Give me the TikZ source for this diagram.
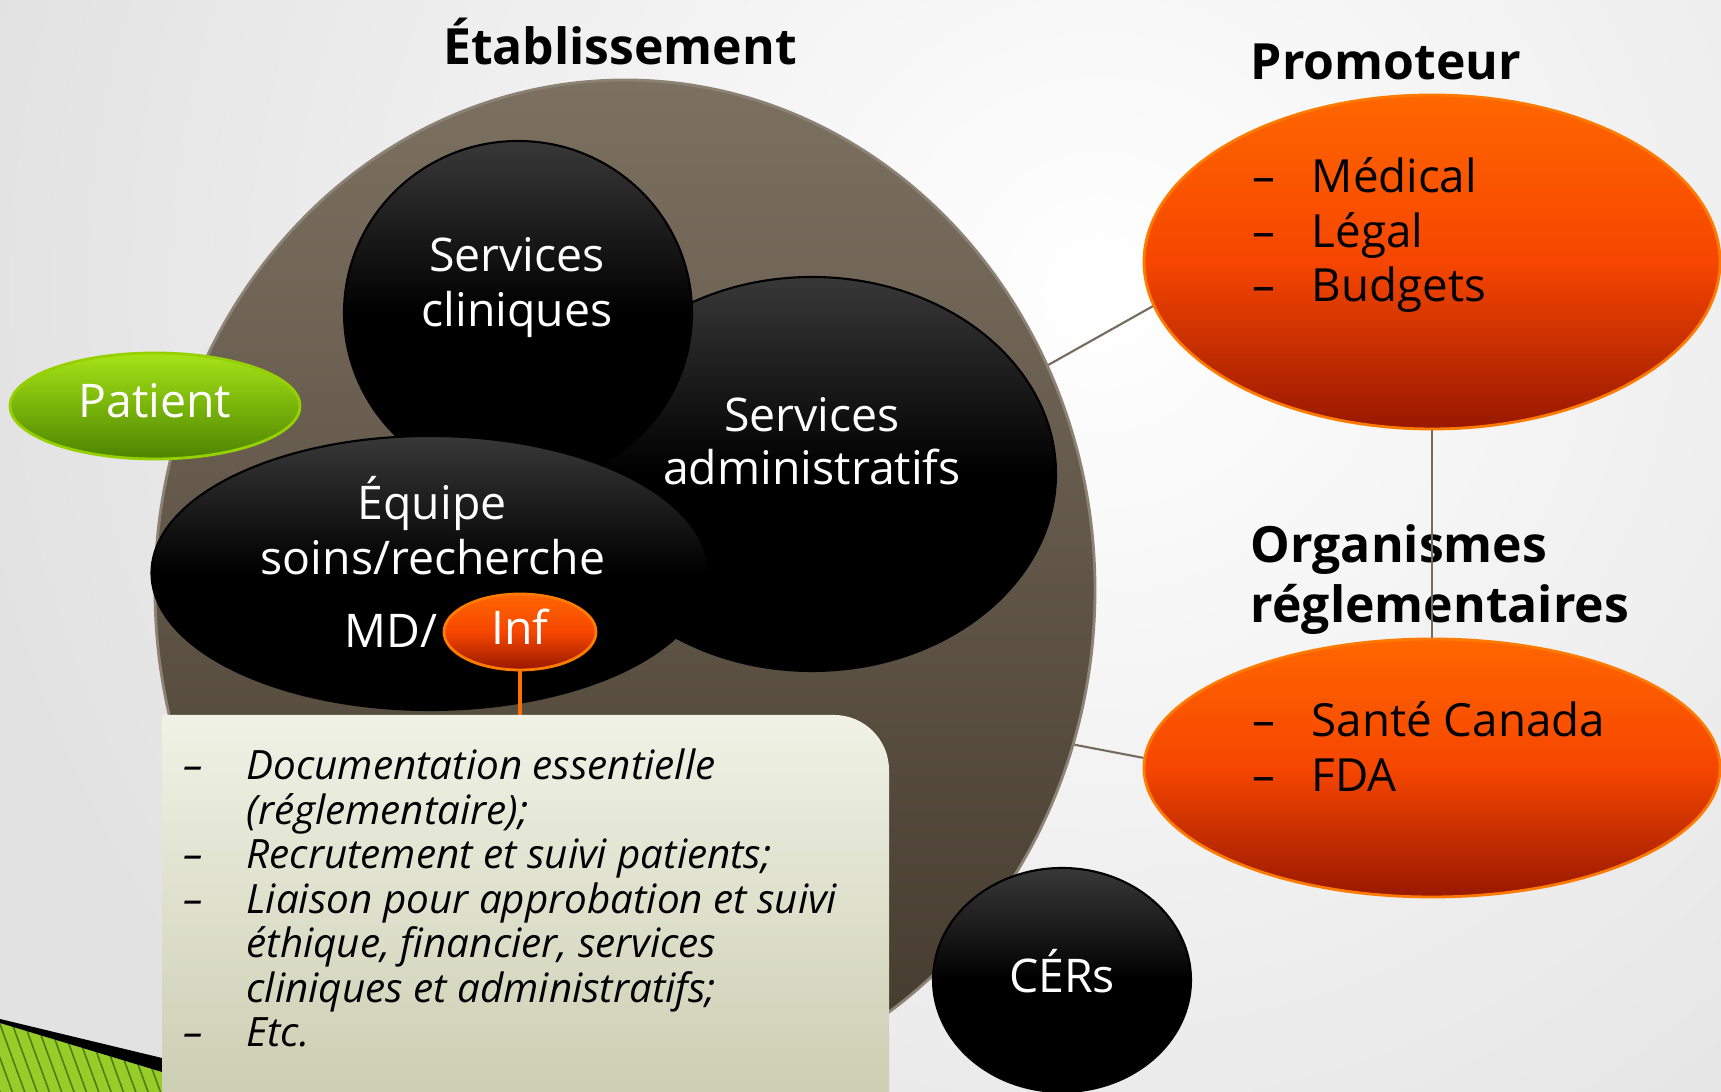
\documentclass[tikz,border=0pt]{standalone}
\usepackage{fontspec}
\setmainfont{Open Sans}
\usetikzlibrary{shapes.geometric,patterns.meta,positioning}

\definecolor{bggray}{RGB}{226,226,226}
\definecolor{etabtop}{RGB}{124,113,97}
\definecolor{etabbot}{RGB}{66,56,43}
\definecolor{etabedge}{RGB}{140,131,117}
\definecolor{orangetop}{RGB}{255,102,0}
\definecolor{orangemid}{RGB}{246,70,0}
\definecolor{orangebot}{RGB}{152,24,0}
\definecolor{orangeedge}{RGB}{255,122,0}
\definecolor{greentop}{RGB}{166,228,22}
\definecolor{greenbot}{RGB}{76,132,0}
\definecolor{greenedge}{RGB}{150,208,0}
\definecolor{boxtop}{RGB}{240,242,230}
\definecolor{boxbot}{RGB}{203,206,177}
\definecolor{tiegray}{RGB}{118,108,94}
\definecolor{infline}{RGB}{255,110,0}
\definecolor{stripegreen}{RGB}{150,205,40}
\definecolor{stripedark}{RGB}{78,125,20}

\tikzset{
  blob/.style={ellipse, draw=black, line width=0.6pt, inner sep=0pt,
    top color=black!78, bottom color=black, middle color=black},
  orangeblob/.style={ellipse, draw=orangeedge, line width=0.8pt, inner sep=0pt,
    top color=orangetop, bottom color=orangebot, middle color=orangemid},
  whitetext/.style={text=white, font=\fontsize{13.2}{15.8}\selectfont, inner sep=0pt, anchor=base},
  headtext/.style={font=\fontsize{14.2}{17}\selectfont\bfseries, inner sep=0pt, anchor=base west},
  itemtext/.style={font=\fontsize{13}{15.6}\selectfont, inner sep=0pt, anchor=base west},
  tie/.style={draw=tiegray, line width=0.6pt},
}

\newcommand{\itemdash}{\makebox[16.8pt][l]{–}}

\begin{document}
\begin{tikzpicture}
    \useasboundingbox (0,0) rectangle (17.21,10.92);
    \clip (0,0) rectangle (17.21,10.92);

    % background
    \fill[bggray] (0,0) rectangle (17.21,10.92);
    \shade[inner color=white, outer color=bggray] (11,8) circle (11.5);

    % green corner stripe (bottom left)
    \fill[stripegreen] (0,0.69) -- (1.62,0.20) -- (1.62,0) -- (0,0) -- cycle;
    \fill[pattern={Lines[angle=-70,distance=3.3pt,line width=0.45pt]}, pattern color=stripedark]
        (0,0.69) -- (1.62,0.20) -- (1.62,0) -- (0,0) -- cycle;
    \fill[black] (0,0.73) -- (1.62,0.34) -- (1.62,0.20) -- (0,0.69) -- cycle;

    % Etablissement
    \node[ellipse, draw=etabedge, line width=0.8pt, inner sep=0pt,
          minimum width=9.4cm, minimum height=10.2cm,
          top color=etabtop, bottom color=etabbot] (etab) at (6.25,5.02) {};
    \node[headtext, anchor=base] (etab-title) at (6.20,10.27) {Établissement};

    % services inside
    \node[blob, minimum width=4.88cm, minimum height=3.94cm] (admin) at (8.12,6.18) {};
    \node[blob, minimum width=3.48cm, minimum height=3.44cm] (cliniques) at (5.18,7.79) {};
    \node[blob, minimum width=5.57cm, minimum height=2.74cm] (equipe) at (4.30,5.19) {};
    \node[orangeblob, minimum width=1.52cm, minimum height=0.76cm] (inf) at (5.20,4.60) {};

    \node[whitetext] (cliniques-l1) at (5.17,8.20) {Services};
    \node[whitetext] (cliniques-l2) at (5.17,7.65) {cliniques};
    \node[whitetext] (admin-l1) at (8.12,6.60) {Services};
    \node[whitetext] (admin-l2) at (8.12,6.07) {administratifs};
    \node[whitetext] (equipe-l1) at (4.32,5.72) {Équipe};
    \node[whitetext] (equipe-l2) at (4.33,5.17) {soins/recherche};
    \node[whitetext, anchor=base east] (equipe-md) at (4.38,4.44) {MD/};
    \node[whitetext] (inf-text) at (5.20,4.47) {Inf};

    % patient
    \node[ellipse, draw=greenedge, line width=0.8pt, inner sep=0pt,
          minimum width=2.90cm, minimum height=1.06cm,
          top color=greentop, bottom color=greenbot] (patient) at (1.55,6.86) {};
    \node[whitetext] (patient-text) at (1.55,6.74) {Patient};

    % tasks box
    \coordinate (boxtop) at (5.20,3.77);
    \draw[infline, line width=0.9pt] (inf) -- (boxtop);
    \shade[top color=boxtop, bottom color=boxbot]
        (1.62,-0.1) -- (1.62,3.77) -- (8.34,3.77) arc[start angle=90, end angle=0, radius=0.55] -- (8.89,-0.1) -- cycle;
    \node[anchor=base west, inner sep=0pt, font=\fontsize{11.5}{12.66}\selectfont\itshape] (tasks) at (1.83,3.12)
        {\begin{tabular}[t]{@{}p{17.9pt}@{}l@{}}
          – & Documentation essentielle\\
            & (réglementaire);\\
          – & Recrutement et suivi patients;\\
          – & Liaison pour approbation et suivi\\
            & éthique, financier, services\\
            & cliniques et administratifs;\\
          – & Etc.
        \end{tabular}};

    % CERs
    \node[blob, minimum width=2.58cm, minimum height=2.24cm] (cers) at (10.62,1.12) {};
    \node[whitetext] (cers-text) at (10.62,0.99) {CÉRs};

    % promoteur (right top)
    \node[orangeblob, minimum width=5.76cm, minimum height=3.34cm] (promo) at (14.32,8.30) {};
    \node[headtext] (promo-title) at (12.50,10.12) {Promoteur};
    \node[itemtext] (promo-1) at (12.52,8.99) {\itemdash Médical};
    \node[itemtext] (promo-2) at (12.52,8.44) {\itemdash Légal};
    \node[itemtext] (promo-3) at (12.52,7.90) {\itemdash Budgets};

    % organismes (right bottom)
    \node[orangeblob, minimum width=5.76cm, minimum height=2.58cm] (orgs) at (14.32,3.24) {};
    \node[headtext] (orgs-title1) at (12.50,5.29) {Organismes};
    \node[headtext] (orgs-title2) at (12.50,4.69) {réglementaires};
    \node[itemtext] (orgs-1) at (12.52,3.55) {\itemdash Santé Canada};
    \node[itemtext] (orgs-2) at (12.52,3.00) {\itemdash FDA};

    % ties
    \draw[tie] (etab.28) -- (promo.189);
    \draw[tie] (etab.341) -- (orgs.178);
    \draw[tie] (promo.south) -- (orgs.north);
\end{tikzpicture}
\end{document}
